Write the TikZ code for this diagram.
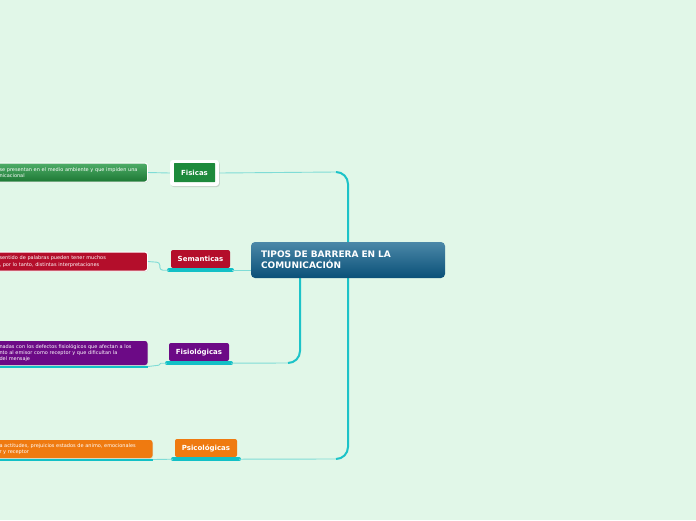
\documentclass[tikz,border=0pt]{standalone}
\usepackage{fontspec}
\setmainfont{DejaVu Sans}
\usetikzlibrary{shadows,calc}
\definecolor{bg}{HTML}{E1F7E8}
\definecolor{trunkc}{HTML}{1CC3C8}
\definecolor{twigc}{HTML}{7FDCD6}
\definecolor{barc}{HTML}{12C0C6}
\definecolor{grn}{HTML}{1E8A3C}
\definecolor{grntop}{HTML}{4EAD68}
\definecolor{grnbot}{HTML}{1C7733}
\definecolor{redc}{HTML}{B40E2B}
\definecolor{purc}{HTML}{6C0A86}
\definecolor{orac}{HTML}{EF7A10}
\definecolor{ctop}{HTML}{4B88A8}
\definecolor{cbot}{HTML}{0A5078}
\tikzset{
  trunk/.style={draw=trunkc, line width=2pt},
  twig/.style={draw=twigc, line width=0.9pt},
  branch/.style={text=white, font=\bfseries\fontsize{7}{8}\selectfont, rounded corners=2pt, minimum height=18, inner sep=0, align=center},
  leaf/.style={draw=white, line width=1pt, rounded corners=2.5pt, text=white, font=\fontsize{5}{6.4}\selectfont, align=left, anchor=east, inner xsep=10, inner ysep=1, text width=138, drop shadow={opacity=0.15, shadow xshift=0.6pt, shadow yshift=-0.8pt}},
  bar/.style={line width=3.5pt, draw=barc, line cap=round},
  thinbar/.style={line width=2pt, draw=barc},
}
\begin{document}
\begin{tikzpicture}[x=1pt,y=-1pt]
\fill[bg] (0,0) rectangle (696,520);
\useasboundingbox (0,0) rectangle (696,520);

% trunks (drawn first)
\coordinate (c1) at (348,242);
\coordinate (c2) at (348,278);
\coordinate (c3) at (300,278);
\coordinate (k1) at (336,172);
\coordinate (k2) at (336,459);
\coordinate (k3) at (288,363);
\draw[trunk] (c1) -- (348,184) to[out=90,in=0] (k1);
\draw[trunk] (c2) -- (348,447) to[out=-90,in=0] (k2);
\draw[trunk] (c3) -- (300,351) to[out=-90,in=0] (k3);

% central node
\node[rounded corners=4pt, top color=ctop, bottom color=cbot, text=white, font=\bfseries\fontsize{9}{11}\selectfont, align=left, text width=174, inner xsep=10, minimum height=36, minimum width=194] (central) at (348,260) {\raisebox{-2pt}{TIPOS DE BARRERA EN LA}\\\raisebox{-2pt}{COMUNICACIÓN}};

% branch nodes
\node[fill=white, rounded corners=3pt, minimum width=49, minimum height=26, drop shadow={opacity=0.3, shadow xshift=0.8pt, shadow yshift=-1pt}] (fisF) at (194.5,173) {};
\node[branch, fill=grn, rounded corners=0.5pt, minimum width=41, minimum height=19] (fis) at (194.5,172.5) {Fisicas};
\node[branch, fill=redc, minimum width=59] (sem) at (200.5,259) {Semanticas};
\node[branch, fill=purc, minimum width=60] (fisio) at (199,352) {Fisiológicas};
\node[branch, fill=orac, minimum width=62] (psi) at (206,448) {Psicológicas};

% underline bars
\coordinate (semb1) at ($(sem.south west)+(-2,2)$);
\coordinate (semb2) at ($(sem.south east)+(2,2)$);
\coordinate (fisb1) at ($(fisio.south west)+(-2,2)$);
\coordinate (fisb2) at ($(fisio.south east)+(2,2)$);
\coordinate (psib1) at ($(psi.south west)+(-2,2)$);
\coordinate (psib2) at ($(psi.south east)+(2,2)$);
\draw[bar] (semb1) -- (semb2);
\draw[bar] (fisb1) -- (fisb2);
\draw[bar] (psib1) -- (psib2);

% thin connectors from trunks
\draw[twig] (k1) -- (fisF.east);
\draw[twig] (k2) -- (psib2);
\draw[twig] (k3) -- (fisb2);
\draw[twig] (central.west |- semb2) -- (semb2);

% leaves
\node[leaf, minimum height=19, top color=grntop, bottom color=grnbot] (l1) at (148,172.5) {se presentan en el medio ambiente y que impiden una\\nicacional};
\node[leaf, minimum height=19, fill=redc] (l2) at (148,261.5) {sentido de palabras pueden tener muchos\\, por lo tanto, distintas interpretaciones};
\node[leaf, minimum height=24, fill=purc, draw=none] (l3) at (148,353) {nadas con los defectos fisiológicos que afectan a los\\nto al emisor como receptor y que dificultan la\\del mensaje};
\node[leaf, minimum height=18, fill=orac, draw=none, text width=143] (l4) at (153,449) {a actitudes, prejuicios estados de animo, emocionales\\r y receptor};

% leaf underlines
\coordinate (l3b) at ($(l3.south east)+(0,1)$);
\coordinate (l4b) at ($(l4.south east)+(0,1)$);
\draw[thinbar] (l3.south west |- l3b) -- (l3b);
\draw[thinbar] (l4.south west |- l4b) -- (l4b);

% thin connectors to leaves
\draw[twig] (fisF.west) -- (l1.east);
\draw[twig] (semb1) -- ++(-6,0) to[out=180,in=-90] ++(-3,-3) -- ++(0,-2) to[out=90,in=0] ++(-3,-3) -- (l2.east);
\draw[twig] (fisb1) -- ++(-6,0) -- ++(-2,2) -- (l3b);
\draw[twig] (psib1) -- (l4b);
\end{tikzpicture}
\end{document}
